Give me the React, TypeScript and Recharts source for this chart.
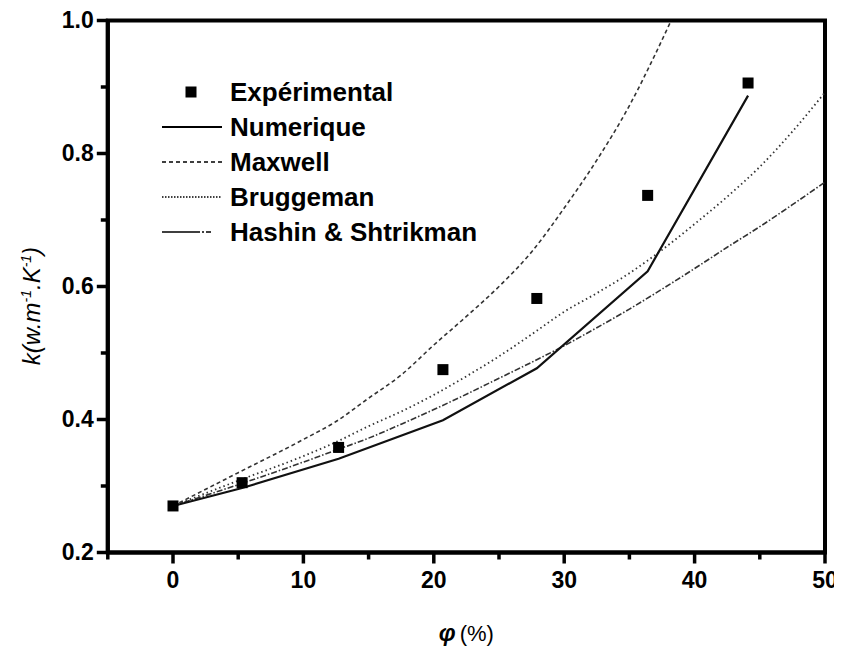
import React from 'react';
import {
  ComposedChart,
  Line,
  Scatter,
  XAxis,
  YAxis,
  ReferenceArea,
} from 'recharts';

// Porosity (%) and measured thermal conductivity
const phiExp = [0, 5.3, 12.7, 20.7, 27.9, 36.4, 44.1];
const kExp = [0.27, 0.305, 0.358, 0.475, 0.582, 0.737, 0.906];

// Numerical model, computed at the measured porosities
const kNum = [0.27, 0.297, 0.341, 0.399, 0.477, 0.623, 0.887];

// Analytical models
const phiMaxwell = [0, 5, 10, 12.5, 15, 17.5, 20, 22.5, 25, 27.5, 30, 32.5, 35, 37, 38.2];
const kMaxwell = [0.27, 0.32, 0.37, 0.397, 0.432, 0.467, 0.512, 0.555, 0.6, 0.652, 0.718, 0.79, 0.872, 0.95, 1.0];

const phiModel = [0, 5, 10, 12.5, 15, 17.5, 20, 22.5, 25, 27.5, 30, 32.5, 35, 37.5, 40, 42.5, 45, 47.5, 50];
const kBruggeman = [0.27, 0.308, 0.345, 0.366, 0.39, 0.412, 0.437, 0.465, 0.495, 0.528, 0.562, 0.59, 0.62, 0.655, 0.694, 0.735, 0.78, 0.833, 0.892];
const kHashin = [0.27, 0.302, 0.336, 0.354, 0.372, 0.393, 0.415, 0.438, 0.462, 0.486, 0.511, 0.538, 0.566, 0.596, 0.627, 0.659, 0.69, 0.723, 0.757];

// Axis ticks (minor ticks included, labels only on the major ones)
const xTicks = [-5, 0, 5, 10, 15, 20, 25, 30, 35, 40, 45, 50];
const yTicks = [0.2, 0.3, 0.4, 0.5, 0.6, 0.7, 0.8, 0.9, 1.0];

const legendNames = ['Expérimental', 'Numerique', 'Maxwell', 'Bruggeman', 'Hashin & Shtrikman'];

const zip = (xs: number[], ys: number[]) => xs.map((x, i) => ({ x, y: ys[i] }));

const expData = zip(phiExp, kExp);
const numData = zip(phiExp, kNum);
const maxwellData = zip(phiMaxwell, kMaxwell);
const bruggemanData = zip(phiModel, kBruggeman);
const hashinData = zip(phiModel, kHashin);

const FONT = '"Liberation Sans", Arial, Helvetica, sans-serif';

const DASH_MAXWELL = '4 3';
const DASH_BRUGGEMAN = '1.5 3';
const DASH_HASHIN = '6 2 1.5 2';

const XTick = (props: any) => {
  const { x, y, payload } = props;
  const v = payload.value as number;
  const major = v % 10 === 0;
  return (
    <g>
      <line x1={x} x2={x} y1={y} y2={y + (major ? 11 : 7)} stroke="#000" strokeWidth={3.5} />
      {major && (
        <text x={x} y={y + 35} textAnchor="middle" fontFamily={FONT} fontWeight="bold" fontSize={23} fill="#000">
          {v}
        </text>
      )}
    </g>
  );
};

const YTick = (props: any) => {
  const { x, y, payload } = props;
  const v = payload.value as number;
  const major = Math.round(v * 10) % 2 === 0;
  return (
    <g>
      <line x1={x} x2={x - (major ? 11 : 7)} y1={y} y2={y} stroke="#000" strokeWidth={3.5} />
      {major && (
        <text x={x - 14} y={y + 7} textAnchor="end" fontFamily={FONT} fontWeight="bold" fontSize={23} fill="#000">
          {v.toFixed(1)}
        </text>
      )}
    </g>
  );
};

const XTitle = (props: any) => {
  const vb = props.viewBox || {};
  const cx = vb.x + vb.width / 2;
  const base = vb.y + 88.5;
  return (
    <text x={cx} y={base} textAnchor="middle" fontFamily={FONT} fontSize={22} fill="#000">
      <tspan fontWeight="bold" fontStyle="italic" fontSize={24}>φ</tspan>
      <tspan dx={4}>(%)</tspan>
    </text>
  );
};

const YTitle = () => {
  const x = 32;
  const y = 298;
  return (
    <text
      x={x}
      y={y}
      transform={`rotate(-90, ${x}, ${y})`}
      textAnchor="middle"
      fontFamily={FONT}
      fontStyle="italic"
      fontSize={24}
      fill="#000"
    >
      <tspan>k(w.m</tspan>
      <tspan dy={-9} fontSize={14}>-1</tspan>
      <tspan dy={9}>.K</tspan>
      <tspan dy={-9} fontSize={14}>-1</tspan>
      <tspan dy={9}>)</tspan>
    </text>
  );
};

// Legend block drawn inside the plot, top-left
const LegendBox = () => {
  const ox = 140;
  const oy = 60;
  const rowY = (i: number) => oy + 24 + i * 35;
  const lineX1 = ox + 14;
  const lineX2 = ox + 74;
  const textX = ox + 82;
  const dashes = [undefined, undefined, DASH_MAXWELL, '1.5 1.5', '38 2 2 2 5'];
  return (
    <g>
      {legendNames.map((name, i) => (
        <g key={name}>
          {i === 0 ? (
            <rect x={ox + 43 - 5.5} y={rowY(i) - 5.5} width={11} height={11} fill="#000" />
          ) : (
            <line
              x1={lineX1}
              x2={lineX2}
              y1={rowY(i)}
              y2={rowY(i)}
              stroke="#000"
              strokeWidth={i === 1 ? 2 : 1.6}
              strokeDasharray={dashes[i]}
            />
          )}
          <text x={textX} y={rowY(i) + 9} fontFamily={FONT} fontWeight="bold" fontSize={26} fill="#000">
            {name}
          </text>
        </g>
      ))}
    </g>
  );
};

const SquareDot = (props: any) => {
  const { cx, cy } = props;
  if (cx == null || cy == null) return null;
  return <rect x={cx - 5.5} y={cy - 5.5} width={11} height={11} fill="#000" />;
};

export default function App() {
  return (
    <div style={{ width: 826, height: 639, position: 'relative', overflow: 'visible' }}>
      <style>{'.k-chart svg, .k-chart .recharts-wrapper { overflow: visible !important; }'}</style>
      <ComposedChart
        className="k-chart"
        width={826}
        height={639}
        margin={{ top: 12.5, right: 9, bottom: 34.5, left: 39.8 }}
      >
        <XAxis
          dataKey="x"
          type="number"
          domain={[-5, 50]}
          ticks={xTicks}
          interval={0}
          allowDataOverflow
          axisLine={{ stroke: '#000', strokeWidth: 4 }}
          tickLine={false}
          tickSize={0}
          tickMargin={0}
          tick={<XTick />}
          height={60}
          label={(p: any) => <XTitle {...p} />}
        />
        <YAxis
          dataKey="y"
          type="number"
          domain={[0.2, 1.0]}
          ticks={yTicks}
          interval={0}
          allowDataOverflow
          axisLine={{ stroke: '#000', strokeWidth: 4 }}
          tickLine={false}
          tickSize={0}
          tickMargin={0}
          tick={<YTick />}
          width={60}
        />
        <ReferenceArea
          x1={-5}
          x2={50}
          y1={0.2}
          y2={1.0}
          fill="none"
          fillOpacity={0}
          stroke="#000"
          strokeWidth={4}
          ifOverflow="visible"
        />
        <Line
          data={maxwellData}
          dataKey="y"
          type="monotone"
          stroke="#333"
          strokeWidth={1.6}
          strokeDasharray={DASH_MAXWELL}
          dot={false}
          activeDot={false}
          isAnimationActive={false}
        />
        <Line
          data={bruggemanData}
          dataKey="y"
          type="monotone"
          stroke="#333"
          strokeWidth={1.8}
          strokeDasharray={DASH_BRUGGEMAN}
          dot={false}
          activeDot={false}
          isAnimationActive={false}
        />
        <Line
          data={hashinData}
          dataKey="y"
          type="monotone"
          stroke="#333"
          strokeWidth={1.6}
          strokeDasharray={DASH_HASHIN}
          dot={false}
          activeDot={false}
          isAnimationActive={false}
        />
        <Line
          data={numData}
          dataKey="y"
          type="linear"
          stroke="#111"
          strokeWidth={2.2}
          dot={false}
          activeDot={false}
          isAnimationActive={false}
        />
        <Scatter
          data={expData}
          dataKey="y"
          fill="#000"
          shape={<SquareDot />}
          isAnimationActive={false}
        />
        <LegendBox />
        <YTitle />
      </ComposedChart>
    </div>
  );
}
